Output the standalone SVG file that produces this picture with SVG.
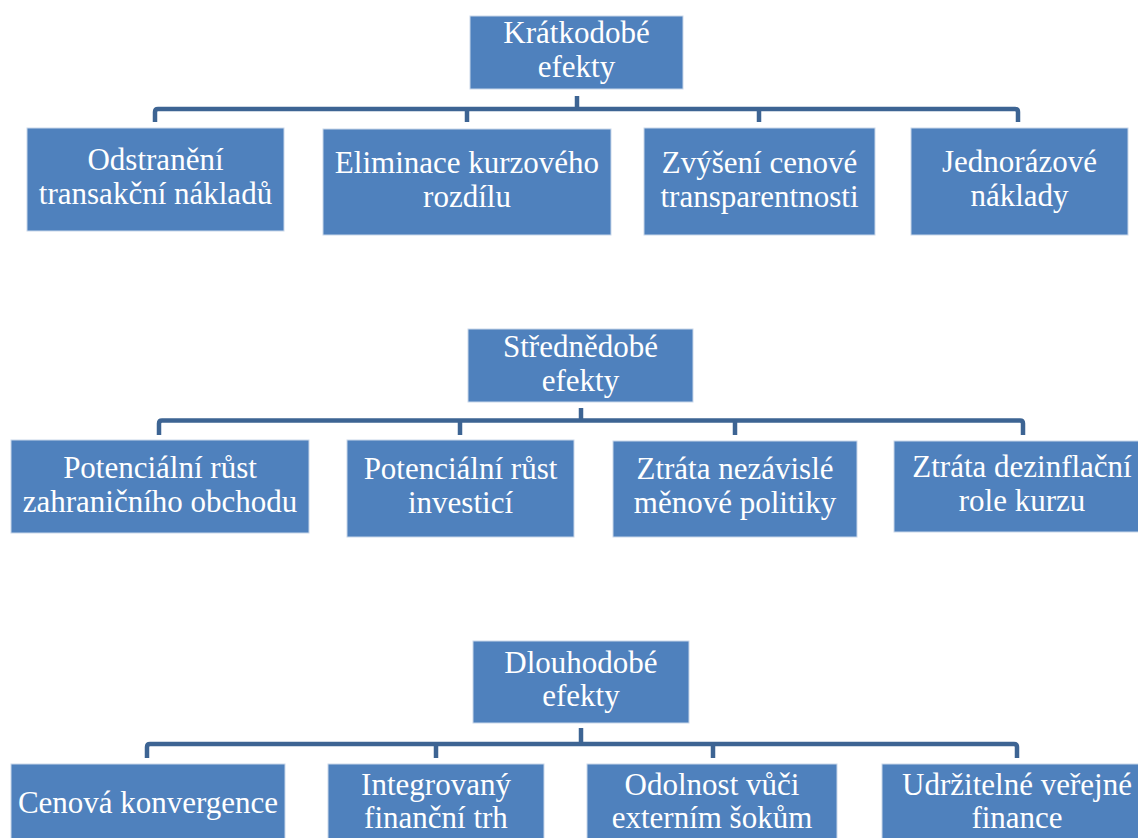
<svg xmlns="http://www.w3.org/2000/svg" width="1138" height="838" viewBox="0 0 1138 838">
<style>
.box{fill:#4f81bd;stroke:#c9d7ea;stroke-width:1}
.t{font-family:'Liberation Serif','DejaVu Serif',serif;font-size:31px;fill:#ffffff;text-anchor:middle}
.c{fill:none;stroke:#3d6493;stroke-width:4.5;stroke-linejoin:round;stroke-linecap:butt}
</style>
<rect width="1138" height="838" fill="#ffffff"/>
<g id="connectors">
<path class="c" d="M577 96V109"/>
<path class="c" d="M155 122V112Q155 109 158 109H1015Q1018 109 1018 112V122"/>
<path class="c" d="M467 109V122M759 109V122"/>
<path class="c" d="M581 408V420.5"/>
<path class="c" d="M159 435V423.5Q159 420.5 162 420.5H1020Q1023 420.5 1023 423.5V435"/>
<path class="c" d="M460 420.5V435M735 420.5V435"/>
<path class="c" d="M581 728V744"/>
<path class="c" d="M147 758V747Q147 744 150 744H1014Q1017 744 1017 747V758"/>
<path class="c" d="M436 744V758M713 744V758"/>
</g>
<g id="root-kratkodobe"><rect class="box" x="470" y="16" width="213" height="73"/><text class="t" x="576.5" y="43">Krátkodobé</text><text class="t" x="576.5" y="77">efekty</text></g>
<g id="n-odstraneni"><rect class="box" x="27" y="128" width="257" height="103"/><text class="t" x="155.5" y="170">Odstranění</text><text class="t" x="155.5" y="204">transakční nákladů</text></g>
<g id="n-eliminace"><rect class="box" x="323" y="129" width="288" height="106"/><text class="t" x="467" y="173">Eliminace kurzového</text><text class="t" x="467" y="207">rozdílu</text></g>
<g id="n-zvyseni"><rect class="box" x="644" y="128" width="231" height="107"/><text class="t" x="759.5" y="173">Zvýšení cenové</text><text class="t" x="759.5" y="207">transparentnosti</text></g>
<g id="n-jednorazove"><rect class="box" x="911" y="128" width="217" height="107"/><text class="t" x="1019.5" y="172">Jednorázové</text><text class="t" x="1019.5" y="206">náklady</text></g>
<g id="root-strednedobe"><rect class="box" x="468" y="329" width="225" height="73"/><text class="t" x="580.5" y="357">Střednědobé</text><text class="t" x="580.5" y="391">efekty</text></g>
<g id="n-obchod"><rect class="box" x="11" y="440" width="298" height="93"/><text class="t" x="160" y="478">Potenciální růst</text><text class="t" x="160" y="512">zahraničního obchodu</text></g>
<g id="n-investice"><rect class="box" x="347" y="440" width="227" height="97"/><text class="t" x="460.5" y="479">Potenciální růst</text><text class="t" x="460.5" y="513">investicí</text></g>
<g id="n-menova"><rect class="box" x="613" y="441" width="244" height="96"/><text class="t" x="735" y="479">Ztráta nezávislé</text><text class="t" x="735" y="513">měnové politiky</text></g>
<g id="n-dezinflacni"><rect class="box" x="894" y="441" width="258" height="91"/><text class="t" x="1022" y="477">Ztráta dezinflační</text><text class="t" x="1022" y="511">role kurzu</text></g>
<g id="root-dlouhodobe"><rect class="box" x="473" y="641" width="216" height="82"/><text class="t" x="581" y="673">Dlouhodobé</text><text class="t" x="581" y="706">efekty</text></g>
<g id="n-cenova"><rect class="box" x="11" y="764" width="274" height="86"/><text class="t" x="148" y="813">Cenová konvergence</text></g>
<g id="n-integrovany"><rect class="box" x="328" y="764" width="216" height="86"/><text class="t" x="436" y="795">Integrovaný</text><text class="t" x="436" y="828">finanční trh</text></g>
<g id="n-odolnost"><rect class="box" x="587" y="764" width="250" height="86"/><text class="t" x="712" y="795">Odolnost vůči</text><text class="t" x="712" y="828">externím šokům</text></g>
<g id="n-udrzitelne"><rect class="box" x="882" y="764" width="270" height="86"/><text class="t" x="1017" y="795">Udržitelné veřejné</text><text class="t" x="1017" y="828">finance</text></g>
</svg>
